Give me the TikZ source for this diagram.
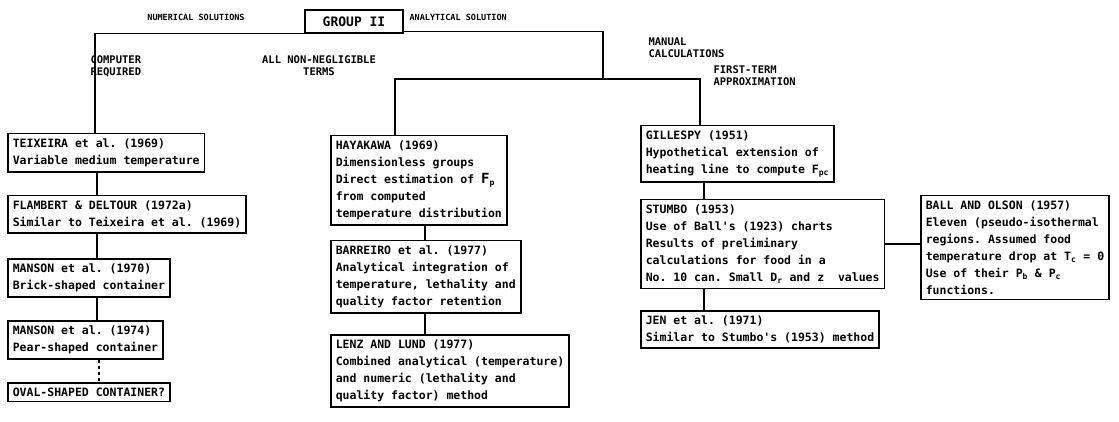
\documentclass[tikz,border=0pt]{standalone}
\usepackage{fontspec}
\setmonofont{DejaVu Sans Mono}
\usepackage{tikz}

\tikzset{
	refbox/.style={draw,line width=1.5pt,anchor=north west,align=left,inner sep=5pt,font=\ttfamily\bfseries\fontsize{11.5}{17}\selectfont},
	branchlabel/.style={align=left,font=\ttfamily\bfseries\fontsize{10.5}{12}\selectfont},
	toplabel/.style={font=\ttfamily\bfseries\fontsize{8.5}{10}\selectfont},
	link/.style={line width=1.5pt}
}

\begin{document}
\begin{tikzpicture}[x=1pt,y=-1pt]
	\useasboundingbox (0,0) rectangle (1119,422);

	\node[draw,line width=1.5pt,minimum width=98pt,minimum height=23pt,font=\ttfamily\bfseries\fontsize{13}{15}\selectfont] (group) at (354,21.5) {GROUP II};
	\node[toplabel] (numlab) at (196,17) {NUMERICAL SOLUTIONS};
	\node[toplabel,anchor=west] (anlab) at (406,17) {ANALYTICAL SOLUTION};
	\node[branchlabel,anchor=west] (manlab) at (645,48) {MANUAL\\CALCULATIONS};
	\node[branchlabel,anchor=west] (comlab) at (87,66) {COMPUTER\\REQUIRED};
	\node[branchlabel,align=center] (alllab) at (319,66) {ALL NON-NEGLIGIBLE\\TERMS};
	\node[branchlabel,anchor=west] (firlab) at (710,76) {FIRST-TERM\\APPROXIMATION};

	\node[refbox] (teix) at (7,133) {TEIXEIRA et al. (1969)\\Variable medium temperature};
	\node[refbox] (flam) at (7,195) {FLAMBERT \& DELTOUR (1972a)\\Similar to Teixeira et al. (1969)};
	\node[refbox] (mans70) at (7,258) {MANSON et al. (1970)\\Brick-shaped container};
	\node[refbox] (mans74) at (7,320) {MANSON et al. (1974)\\Pear-shaped container};
	\node[refbox] (oval) at (7,382) {OVAL-SHAPED CONTAINER?};

	\node[refbox] (haya) at (330,135) {HAYAKAWA (1969)\\Dimensionless groups\\Direct estimation of {\fontsize{14}{17}\selectfont F}\textsubscript{p}\\from computed\\temperature distribution};
	\node[refbox] (barr) at (330,240) {BARREIRO et al. (1977)\\Analytical integration of\\temperature, lethality and\\quality factor retention};
	\node[refbox] (lenz) at (330,334) {LENZ AND LUND (1977)\\Combined analytical (temperature)\\and numeric (lethality and\\quality factor) method};

	\node[refbox] (gill) at (640,125) {GILLESPY (1951)\\Hypothetical extension of\\heating line to compute F\textsubscript{pc}};
	\node[refbox] (stum) at (640,199) {STUMBO (1953)\\Use of Ball's (1923) charts\\Results of preliminary\\calculations for food in a\\No. 10 can. Small D\textsubscript{r} and z\ \ values};
	\node[refbox] (jen) at (640,310) {JEN et al. (1971)\\Similar to Stumbo's (1953) method};
	\node[refbox] (ball) at (920,195) {BALL AND OLSON (1957)\\Eleven (pseudo-isothermal\\regions. Assumed food\\temperature drop at T\textsubscript{c} = 0\\Use of their P\textsubscript{b} \& P\textsubscript{c}\\functions.};

	\coordinate (split) at (603,79);
	\draw[link] (group.south west) -| ([xshift=88pt]teix.north west);
	\draw[link] ([yshift=2pt]group.south east) -| (split);
	\draw[link] ([xshift=65pt]haya.north west) |- (split) -| ([xshift=60pt]gill.north west);

	\draw[link] ([xshift=90pt]teix.south west) -- ([xshift=90pt]flam.north west);
	\draw[link] ([xshift=90pt]flam.south west) -- ([xshift=90pt]mans70.north west);
	\draw[link] ([xshift=90pt]mans70.south west) -- ([xshift=90pt]mans74.north west);
	\draw[link,dashed] ([xshift=92pt]mans74.south west) -- ([xshift=92pt]oval.north west);

	\draw[link] ([xshift=95pt]haya.south west) -- ([xshift=95pt]barr.north west);
	\draw[link] ([xshift=95pt]barr.south west) -- ([xshift=95pt]lenz.north west);

	\draw[link] ([xshift=64pt]gill.south west) -- ([xshift=64pt]stum.north west);
	\draw[link] ([xshift=64pt]stum.south west) -- ([xshift=64pt]jen.north west);
	\draw[link] (stum.east) -- (stum.east -| ball.west);
\end{tikzpicture}
\end{document}
